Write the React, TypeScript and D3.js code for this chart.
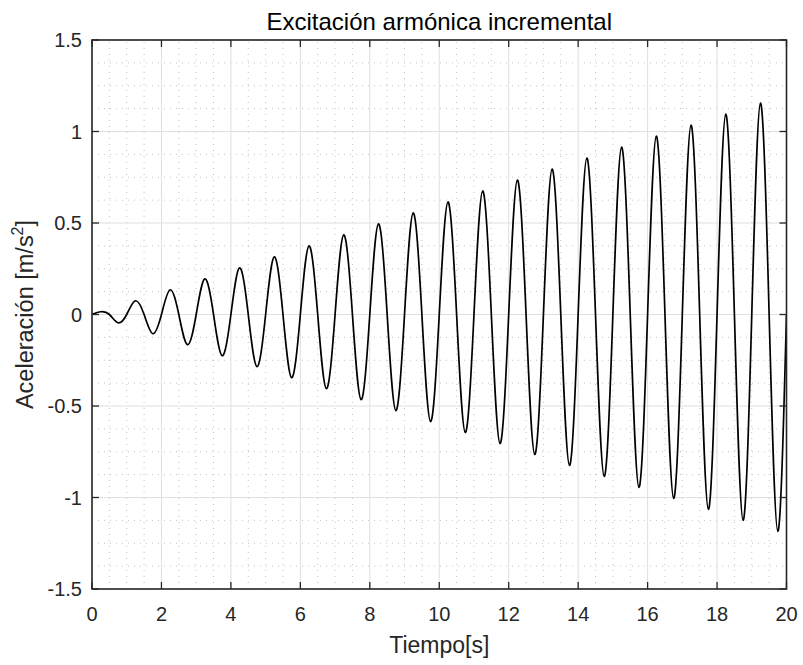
import React from "react";
import * as d3 from "d3";

const timeS: number[] = [
  0, 0.25, 0.5, 0.75, 1, 1.25, 1.5, 1.75, 2, 2.25, 2.5, 2.75, 3, 3.25, 3.5, 3.75,
  4, 4.25, 4.5, 4.75, 5, 5.25, 5.5, 5.75, 6, 6.25, 6.5, 6.75, 7, 7.25, 7.5, 7.75,
  8, 8.25, 8.5, 8.75, 9, 9.25, 9.5, 9.75, 10, 10.25, 10.5, 10.75, 11, 11.25, 11.5, 11.75,
  12, 12.25, 12.5, 12.75, 13, 13.25, 13.5, 13.75, 14, 14.25, 14.5, 14.75, 15, 15.25, 15.5, 15.75,
  16, 16.25, 16.5, 16.75, 17, 17.25, 17.5, 17.75, 18, 18.25, 18.5, 18.75, 19, 19.25, 19.5, 19.75, 20,
];

const accel: number[] = [
  0, 0.015, 0, -0.045, 0, 0.075, 0, -0.105, 0, 0.135, 0, -0.165, 0, 0.195, 0, -0.225,
  0, 0.255, 0, -0.285, 0, 0.315, 0, -0.345, 0, 0.375, 0, -0.405, 0, 0.435, 0, -0.465,
  0, 0.495, 0, -0.525, 0, 0.555, 0, -0.585, 0, 0.615, 0, -0.645, 0, 0.675, 0, -0.705,
  0, 0.735, 0, -0.765, 0, 0.795, 0, -0.825, 0, 0.855, 0, -0.885, 0, 0.915, 0, -0.945,
  0, 0.975, 0, -1.005, 0, 1.035, 0, -1.065, 0, 1.095, 0, -1.125, 0, 1.155, 0, -1.185, 0,
];

const xTicks: number[] = [0, 2, 4, 6, 8, 10, 12, 14, 16, 18, 20];
const yTicks: number[] = [-1.5, -1, -0.5, 0, 0.5, 1, 1.5];
const xMinorStep = 0.5;
const yMinorStep = 0.125;

const titleText = "Excitación armónica incremental";
const xLabelText = "Tiempo[s]";
const yLabelMain = "Aceleración [m/s";

const W = 803;
const H = 665;
const M = { left: 92, right: 803 - 786.5, top: 40, bottom: 665 - 589 };
const FONT = "'Liberation Sans', Arial, Helvetica, sans-serif";
const AX = "#262626";

export default function App() {
  const x = d3.scaleLinear().domain([0, 20]).range([M.left, W - M.right]);
  const y = d3.scaleLinear().domain([-1.5, 1.5]).range([H - M.bottom, M.top]);

  const xMinor = d3.range(0, 20 + 1e-9, xMinorStep).filter((v) => !xTicks.includes(v));
  const yMinor = d3.range(-1.5, 1.5 + 1e-9, yMinorStep).filter((v) => !yTicks.some((t) => Math.abs(t - v) < 1e-9));

  const pts: [number, number][] = timeS.map((t, i) => [t, accel[i]]);
  const line = d3
    .line<[number, number]>()
    .x((d) => x(d[0]))
    .y((d) => y(d[1]))
    .curve(d3.curveNatural);

  const x0 = x(0), x1 = x(20), y0 = y(-1.5), y1 = y(1.5);
  const tl = 7;
  const fmt = (v: number) => String(v);

  return (
    <svg width={W} height={H} style={{ position: "absolute", left: 0, top: 0, background: "#fff" }} fontFamily={FONT}>
      <defs>
        <clipPath id="plotclip">
          <rect x={x0} y={y1} width={x1 - x0} height={y0 - y1} />
        </clipPath>
      </defs>
      <rect x={0} y={0} width={W} height={H} fill="#fff" />
      {/* minor grid */}
      <g stroke="#c4c4c4" strokeWidth={1} strokeDasharray="1,5">
        {xMinor.map((v) => (
          <line key={"xm" + v} x1={x(v)} x2={x(v)} y1={y0} y2={y1} />
        ))}
        {yMinor.map((v) => (
          <line key={"ym" + v} x1={x0} x2={x1} y1={y(v)} y2={y(v)} />
        ))}
      </g>
      {/* major grid */}
      <g stroke="#dfdfdf" strokeWidth={1}>
        {xTicks.map((v) => (
          <line key={"xg" + v} x1={x(v)} x2={x(v)} y1={y0} y2={y1} />
        ))}
        {yTicks.map((v) => (
          <line key={"yg" + v} x1={x0} x2={x1} y1={y(v)} y2={y(v)} />
        ))}
      </g>
      {/* data */}
      <path d={line(pts) || ""} fill="none" stroke="#000" strokeWidth={1.7} clipPath="url(#plotclip)" />
      {/* ticks */}
      <g stroke={AX} strokeWidth={1.3}>
        {xTicks.map((v) => (
          <g key={"xt" + v}>
            <line x1={x(v)} x2={x(v)} y1={y0} y2={y0 - tl} />
            <line x1={x(v)} x2={x(v)} y1={y1} y2={y1 + tl} />
          </g>
        ))}
        {yTicks.map((v) => (
          <g key={"yt" + v}>
            <line x1={x0} x2={x0 + tl} y1={y(v)} y2={y(v)} />
            <line x1={x1} x2={x1 - tl} y1={y(v)} y2={y(v)} />
          </g>
        ))}
      </g>
      {/* box */}
      <rect x={x0} y={y1} width={x1 - x0} height={y0 - y1} fill="none" stroke={AX} strokeWidth={1.6} />
      {/* tick labels */}
      <g fill={AX} fontSize={20}>
        {xTicks.map((v) => (
          <text key={"xl" + v} x={x(v)} y={621} textAnchor="middle">
            {fmt(v)}
          </text>
        ))}
        {yTicks.map((v) => (
          <text key={"yl" + v} x={x0 - 10} y={y(v) + 7} textAnchor="end">
            {fmt(v)}
          </text>
        ))}
      </g>
      {/* labels */}
      <text x={(x0 + x1) / 2} y={653} textAnchor="middle" fontSize={23} fill={AX}>
        {xLabelText}
      </text>
      <text x={(x0 + x1) / 2} y={30} textAnchor="middle" fontSize={24} fill="#000">
        {titleText}
      </text>
      <text transform={`translate(33,${(y0 + y1) / 2}) rotate(-90)`} textAnchor="middle" fontSize={23.5} fill={AX}>
        {yLabelMain}
        <tspan dy={-10} fontSize={16}>2</tspan>
        <tspan dy={10}>]</tspan>
      </text>
    </svg>
  );
}
